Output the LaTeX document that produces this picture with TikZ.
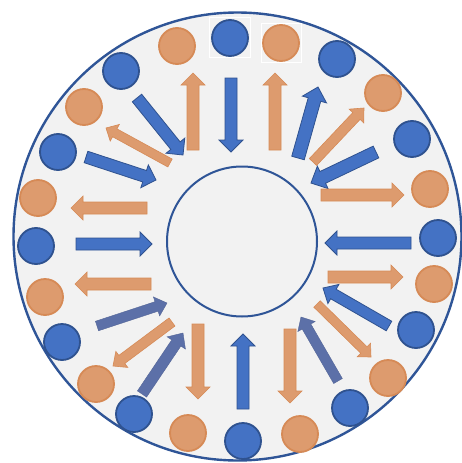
\documentclass[tikz,border=0pt]{standalone}
\usetikzlibrary{calc}
\definecolor{ringbg}{HTML}{F2F2F2}
\definecolor{ringline}{HTML}{2F5597}
\definecolor{bluefill}{HTML}{4472C4}
\definecolor{blueline}{HTML}{2F528F}
\definecolor{orfill}{RGB}{221,155,110}
\definecolor{orline}{RGB}{214,138,86}
\definecolor{slate}{RGB}{92,112,168}
\newcommand\blockarr[6]{%
  \coordinate (ba-h) at ($(#3)!#6!(#2)$);
  \filldraw[#1] ($(#2)!#4!90:(#3)$) -- ($(ba-h)!#4!90:(#3)$) -- ($(ba-h)!#5!90:(#3)$) -- (#3)
    -- ($(ba-h)!#5!-90:(#3)$) -- ($(ba-h)!#4!-90:(#3)$) -- ($(#2)!#4!-90:(#3)$) -- cycle;
}
\tikzset{
  bc/.style={circle, fill=bluefill, draw=blueline, line width=1.8pt, minimum size=36pt, inner sep=0pt},
  oc/.style={circle, fill=orfill, draw=orline, line width=1.8pt, minimum size=36pt, inner sep=0pt},
  barr/.style={fill=bluefill, draw=blueline, line width=0.8pt, line join=miter},
  sarr/.style={fill=slate, draw=slate!90!black, line width=0.4pt},
  oarr/.style={fill=orfill, draw=orline, line width=0.6pt},
  wbox/.style={draw=white, line width=1.5pt}
}
\begin{document}
\begin{tikzpicture}[x=1pt,y=-1pt]
\useasboundingbox (0,0) rectangle (462,463);
\node[circle, draw=ringline, fill=ringbg, line width=2.4pt, minimum size=448pt, inner sep=0pt] (ring) at (237.5,236.5) {};
\node[circle, draw=ringline, fill=ringbg, line width=2pt, minimum size=150pt, inner sep=0pt] (hub) at (242,241.5) {};
% white boxes
\draw[wbox] (209.5,17.5) rectangle (250.5,57.5);
\draw[wbox] (261.5,23.5) rectangle (301.5,62.5);
% circles
\node[bc] (c1) at (230,38) {};
\node[oc] (c2) at (281,43) {};
\node[bc] (c3) at (337,59) {};
\node[oc] (c4) at (383,93) {};
\node[bc] (c5) at (412,139) {};
\node[oc] (c6) at (430,189) {};
\node[bc] (c7) at (438,238) {};
\node[oc] (c8) at (434,284) {};
\node[bc] (c9) at (416,330) {};
\node[oc] (c10) at (388,378) {};
\node[bc] (c11) at (350,408) {};
\node[oc] (c12) at (300,434) {};
\node[bc] (c13) at (243,441) {};
\node[oc] (c14) at (188,433) {};
\node[bc] (c15) at (134,414) {};
\node[oc] (c16) at (96,384) {};
\node[bc] (c17) at (62,342) {};
\node[oc] (c18) at (45,297) {};
\node[bc] (c19) at (36,246) {};
\node[oc] (c20) at (38,198) {};
\node[bc] (c21) at (58,152) {};
\node[oc] (c22) at (84,107) {};
\node[bc] (c23) at (121,71) {};
\node[oc] (c24) at (177,46) {};
% arrows (tail, tip)
\blockarr{barr}{231,78}{231,152}{6pt}{12pt}{12pt}
\blockarr{oarr}{275,150}{275,73}{6pt}{12pt}{12pt}
\blockarr{barr}{298,158}{318,87}{6.5pt}{12.5pt}{13pt}
\blockarr{oarr}{313,162}{364,108}{5pt}{10pt}{11pt}
\blockarr{barr}{376,152}{311,183}{6.5pt}{12.5pt}{13pt}
\blockarr{oarr}{321,195}{404,195}{6pt}{12pt}{12pt}
\blockarr{barr}{411,243}{325,243}{6pt}{12pt}{12pt}
\blockarr{oarr}{328,277}{403,277}{6pt}{12pt}{12pt}
\blockarr{barr}{389,326}{323,288}{5.5pt}{11pt}{12pt}
\blockarr{oarr}{317,304}{371,357}{4.5pt}{9.5pt}{10pt}
\blockarr{sarr}{338,381}{301,317}{5pt}{10pt}{11pt}
\blockarr{oarr}{290,329}{290,403}{6pt}{12pt}{12pt}
\blockarr{barr}{243,409}{243,334}{6pt}{12pt}{12pt}
\blockarr{oarr}{198,324}{198,399}{6pt}{12pt}{12pt}
\blockarr{sarr}{142,394}{183,333}{5.5pt}{11pt}{12pt}
\blockarr{oarr}{172,322}{113,366}{5pt}{10pt}{11pt}
\blockarr{sarr}{97,326}{167,303}{5pt}{10pt}{11pt}
\blockarr{oarr}{151,284}{75,284}{6pt}{12pt}{12pt}
\blockarr{barr}{76,244}{152,244}{6pt}{12pt}{12pt}
\blockarr{oarr}{147,208}{71,208}{6pt}{12pt}{12pt}
\blockarr{barr}{86,157}{156,180}{6pt}{12pt}{12pt}
\blockarr{oarr}{170,163}{106,128}{4.5pt}{9.5pt}{10pt}
\blockarr{barr}{137,98}{183,155}{6pt}{12pt}{12pt}
\blockarr{oarr}{193,150}{193,73}{6pt}{12pt}{12pt}
\end{tikzpicture}
\end{document}
